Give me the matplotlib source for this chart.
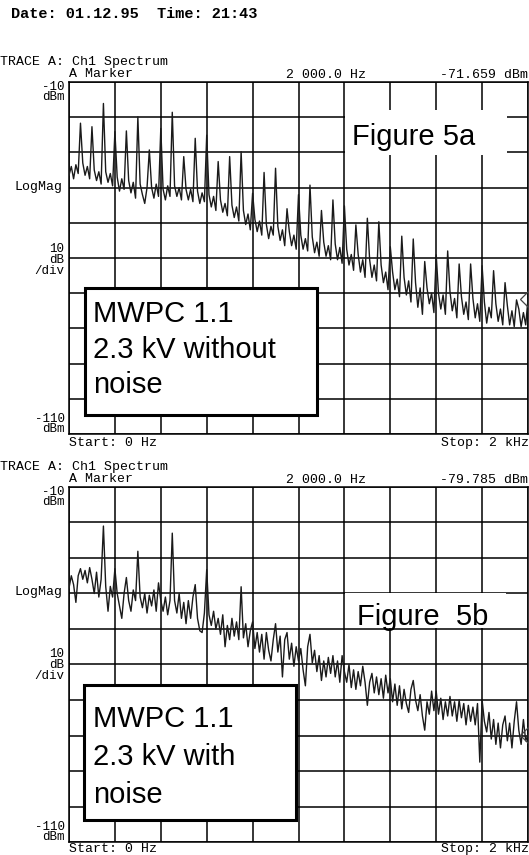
import numpy as np
import matplotlib.pyplot as plt
from matplotlib.patches import Rectangle

# trace A, 2.3 kV without noise: 10 Hz steps, one row per 50 Hz (peak first)
rows_a = [
    [-36.5, -34.0, -37.5, -33.5, -36.0],
    [-21.7, -33.0, -36.5, -34.0, -37.5],
    [-22.7, -35.0, -38.0, -35.5, -39.0],
    [-16.1, -35.5, -38.5, -36.0, -39.5],
    [-24.1, -37.0, -41.0, -37.5, -40.5],
    [-23.9, -38.0, -41.5, -38.5, -43.0],
    [-19.9, -39.0, -42.0, -44.5, -40.0],
    [-29.3, -40.0, -43.0, -39.0, -42.5],
    [-23.2, -40.5, -43.5, -39.5, -42.5],
    [-18.6, -39.5, -42.5, -40.0, -43.5],
    [-31.2, -40.5, -43.5, -40.5, -44.0],
    [-26.0, -41.0, -44.5, -41.5, -44.0],
    [-25.1, -42.0, -45.5, -42.5, -46.5],
    [-32.6, -43.5, -47.0, -44.5, -48.0],
    [-31.2, -45.0, -48.5, -45.5, -49.5],
    [-29.8, -46.5, -50.5, -47.5, -52.0],
    [-41.6, -49.0, -52.5, -49.5, -53.5],
    [-35.7, -50.5, -54.5, -51.0, -53.5],
    [-34.5, -51.0, -55.0, -52.0, -56.5],
    [-46.0, -52.5, -56.5, -53.5, -57.5],
    [-42.0, -53.5, -57.5, -54.5, -58.0],
    [-39.3, -54.0, -58.5, -55.5, -59.5],
    [-46.5, -55.5, -59.5, -56.5, -60.5],
    [-43.5, -56.0, -60.5, -57.0, -61.5],
    [-45.2, -57.5, -62.0, -59.0, -63.5],
    [-50.6, -59.0, -64.0, -60.5, -65.5],
    [-48.7, -60.5, -65.5, -62.0, -66.5],
    [-49.7, -62.0, -67.0, -64.0, -69.0],
    [-56.8, -64.0, -69.0, -66.0, -71.0],
    [-53.8, -65.5, -70.5, -66.5, -72.5],
    [-54.6, -67.0, -74.0, -68.5, -76.0],
    [-61.0, -68.5, -73.0, -70.0, -75.5],
    [-59.1, -70.0, -74.5, -70.5, -76.0],
    [-58.0, -69.5, -75.0, -71.5, -77.0],
    [-61.7, -71.0, -76.0, -72.5, -77.5],
    [-61.7, -71.5, -77.0, -73.0, -78.0],
    [-62.2, -72.5, -78.5, -74.0, -77.0],
    [-63.6, -73.0, -78.0, -74.5, -79.0],
    [-67.0, -73.5, -79.0, -75.0, -79.5],
    [-71.9, -74.5, -79.5, -75.5, -79.0],
    [-71.659],
]

# trace B, 2.3 kV with noise: 10 Hz steps, one row per 100 Hz
rows_b = [
    [-38.5, -35.0, -37.5, -42.5, -35.0, -33.0, -36.0, -33.5, -37.0, -32.7],
    [-36.0, -40.0, -34.0, -41.0, -36.0, -21.0, -38.0, -45.0, -38.0, -41.0],
    [-33.0, -40.0, -43.5, -47.0, -40.0, -35.5, -42.0, -45.0, -39.0, -42.0],
    [-28.1, -41.0, -44.0, -40.0, -45.5, -40.5, -43.5, -39.0, -45.0, -37.0],
    [-42.0, -45.0, -41.0, -46.0, -42.0, -23.0, -42.0, -45.5, -40.0, -47.0],
    [-42.5, -48.5, -42.0, -47.0, -41.0, -37.5, -47.0, -50.5, -51.0, -45.5],
    [-33.3, -46.0, -49.0, -45.0, -50.0, -47.0, -51.5, -46.0, -55.0, -49.0],
    [-53.0, -47.0, -52.0, -48.0, -53.0, -38.1, -52.5, -48.5, -55.0, -50.5],
    [-48.0, -55.5, -51.0, -56.5, -51.5, -58.5, -51.0, -56.0, -59.0, -53.0],
    [-48.5, -56.5, -52.0, -63.5, -53.0, -51.0, -58.5, -54.0, -60.5, -55.0],
    [-59.0, -55.5, -61.5, -66.0, -55.0, -51.5, -59.5, -56.0, -62.0, -57.5],
    [-64.5, -59.0, -63.5, -58.0, -62.5, -57.5, -63.5, -59.0, -65.0, -57.5],
    [-62.0, -65.0, -60.0, -66.5, -61.5, -67.0, -62.0, -66.0, -60.5, -65.0],
    [-71.5, -65.0, -62.5, -68.0, -63.5, -68.5, -64.0, -69.5, -63.0, -68.0],
    [-64.0, -70.5, -65.5, -71.5, -66.0, -72.5, -67.0, -71.0, -73.5, -67.0],
    [-64.5, -70.0, -73.0, -68.5, -74.5, -78.5, -70.5, -74.0, -67.5, -73.0],
    [-67.5, -74.0, -69.5, -75.5, -70.5, -74.5, -69.0, -74.5, -70.5, -76.0],
    [-70.0, -75.0, -71.0, -77.0, -71.5, -76.0, -72.0, -77.0, -71.0, -87.5],
    [-70.0, -76.0, -79.0, -73.5, -81.0, -75.5, -82.5, -76.5, -83.5, -77.0],
    [-74.5, -81.5, -76.5, -83.5, -76.0, -70.5, -78.5, -82.5, -75.5, -81.5],
    [-79.785],
]

level_a = np.concatenate(rows_a)
level_b = np.concatenate(rows_b)
freq = np.arange(len(level_a)) * 10.0

marker_a = -71.659
marker_b = -79.785

W, H = 529, 855
fig = plt.figure(figsize=(W / 100, H / 100), dpi=100)
fig.patch.set_facecolor('white')

MONO = 'Liberation Mono'
ARIAL = 'Liberation Sans'


def fx(x):
    return x / W


def fy(y):
    return 1 - y / H


def ftext(x, y, s, ha='left', size=9.5, va='baseline', **kw):
    fig.text(fx(x), fy(y), s, ha=ha, va=va, fontsize=size,
             family=kw.pop('family', MONO), **kw)


def stack(x, y, s, ls):
    # stacked left-hand scale labels, one text each
    ftext(x, y, s, ha='right', va='top', size=9, multialignment='right',
          linespacing=ls)


def panel(top, bot, level, mval, mtext, foot):
    ax = fig.add_axes([fx(69), fy(bot), fx(528) - fx(69), fy(top) - fy(bot)])
    ax.set_xlim(0, 2000)
    ax.set_ylim(-110, -10)
    ax.set_xticks(np.linspace(0, 2000, 11))
    ax.set_yticks(np.linspace(-110, -10, 11))
    ax.tick_params(length=0, labelleft=False, labelbottom=False)
    ax.grid(True, color='black', lw=1.1)
    for s in ax.spines.values():
        s.set_color('black')
        s.set_linewidth(1.1)
    ax.plot(freq, level, color='#1a1a1a', lw=1.0, zorder=3)
    ax.plot([2000], [mval], marker='D', ms=8, mfc='none', mec='#444444',
            mew=0.9, clip_on=False, zorder=4)

    ftext(0, top - 17, 'TRACE A: Ch1 Spectrum')
    ftext(69, top - 5, 'A Marker')
    ftext(286, top - 4, '2 000.0 Hz')
    ftext(528, top - 4, mtext, ha='right')
    stack(65, top - 1, '-10\ndBm', 0.8)
    ftext(63, top + 108, 'LogMag', ha='right')
    stack(64, top + 161, '10\ndB\n/div', 0.9)
    stack(65, bot - 21, '-110\ndBm', 0.8)
    ftext(69, bot + foot, 'Start: 0 Hz')
    ftext(529, bot + foot, 'Stop: 2 kHz', ha='right')
    return ax


def box(x0, y0, x1, y1, lw):
    r = Rectangle((fx(x0), fy(y1)), fx(x1) - fx(x0), fy(y0) - fy(y1),
                  transform=fig.transFigure, facecolor='white',
                  edgecolor='black' if lw else 'none', linewidth=lw, zorder=5)
    fig.add_artist(r)


ftext(11, 18, 'Date: 01.12.95  Time: 21:43', size=11,
      family='Liberation Mono', weight='bold')

panel(82, 434, level_a, marker_a, '-71.659 dBm', 12)
panel(487, 842, level_b, marker_b, '-79.785 dBm', 10)

# label boxes
box(345, 110, 507, 155, 0)
ftext(352, 145, 'Figure 5a', size=21, family=ARIAL, zorder=6)
box(85, 288, 317, 415, 2.2)
for yb, s in zip([322, 357.5, 393], ['MWPC 1.1', '2.3 kV without', 'noise']):
    ftext(93, yb, s, size=21, family=ARIAL, zorder=6)

box(345, 593, 506, 628, 0)
ftext(357, 625, 'Figure  5b', size=21, family=ARIAL, zorder=6)
box(84, 685, 296, 820, 2.2)
for yb, s in zip([727, 765, 803], ['MWPC 1.1', '2.3 kV with', 'noise']):
    ftext(93, yb, s, size=21, family=ARIAL, zorder=6)

fig.savefig('out.png', dpi=100)
